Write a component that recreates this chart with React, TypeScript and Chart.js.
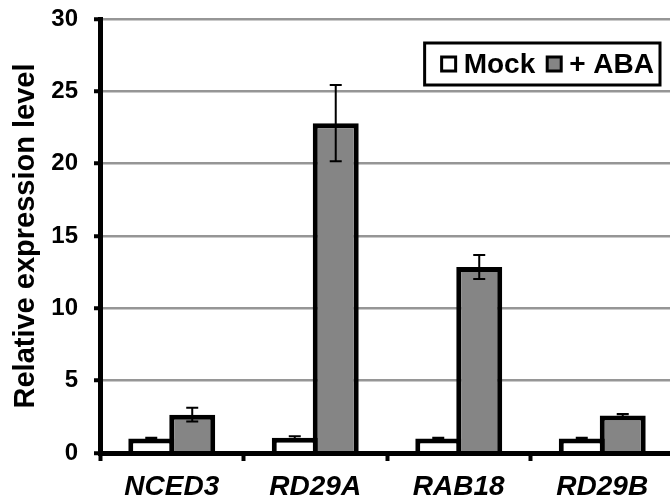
import { useEffect, useRef } from "react";
import { Chart, registerables } from "chart.js";

Chart.register(...registerables);

const categories = ["NCED3", "RD29A", "RAB18", "RD29B"];
const seriesLabels = ["Mock", "+ ABA"];
const mockValues = [1.0, 1.05, 1.0, 1.0];
const mockErrors = [0.05, 0.1, 0.05, 0.05];
const abaValues = [2.65, 22.8, 12.85, 2.6];
const abaErrors = [0.48, 2.63, 0.83, 0.1];
const yTickValues = [0, 5, 10, 15, 20, 25, 30];

const FONT = "'Liberation Sans', Arial, Helvetica, sans-serif";

const errorBarPlugin = {
  id: "errorBars",
  afterDatasetsDraw(chart: any) {
    const ctx = chart.ctx;
    const yScale = chart.scales.y;
    chart.data.datasets.forEach((ds: any, di: number) => {
      const meta = chart.getDatasetMeta(di);
      meta.data.forEach((bar: any, i: number) => {
        const v = ds.data[i];
        const e = ds.errors[i];
        const x = bar.x;
        const yTop = yScale.getPixelForValue(v + e);
        const yBot = yScale.getPixelForValue(v - e);
        ctx.save();
        ctx.strokeStyle = "#000";
        ctx.lineWidth = 2;
        ctx.beginPath();
        ctx.moveTo(x, yTop);
        ctx.lineTo(x, yBot);
        ctx.moveTo(x - 6, yTop);
        ctx.lineTo(x + 6, yTop);
        ctx.moveTo(x - 6, yBot);
        ctx.lineTo(x + 6, yBot);
        ctx.stroke();
        ctx.restore();
      });
    });
  },
};

const insideLegendPlugin = {
  id: "insideLegend",
  afterDraw(chart: any) {
    const { ctx, chartArea } = chart;
    ctx.save();
    ctx.font = `bold 28px ${FONT}`;
    const items = chart.data.datasets.map((ds: any) => ({
      label: ds.label,
      fill: ds.backgroundColor,
    }));
    const sq = 14;
    const gap = 8;
    const itemGap = 12;
    const padL = 17;
    const padR = 6;
    const h = 42;
    let w = padL + padR;
    items.forEach((it: any, i: number) => {
      w += sq + gap + ctx.measureText(it.label).width + (i < items.length - 1 ? itemGap : 0);
    });
    const right = chartArea.right - 14;
    const left = right - w;
    const top = chartArea.top + 24;
    ctx.fillStyle = "#fff";
    ctx.fillRect(left, top, w, h);
    ctx.lineWidth = 3;
    ctx.strokeStyle = "#000";
    ctx.strokeRect(left, top, w, h);
    let x = left + padL;
    const cy = top + h / 2;
    items.forEach((it: any) => {
      ctx.fillStyle = it.fill;
      ctx.fillRect(x, cy - sq / 2, sq, sq);
      ctx.lineWidth = 3;
      ctx.strokeStyle = "#000";
      ctx.strokeRect(x, cy - sq / 2, sq, sq);
      x += sq + gap;
      ctx.fillStyle = "#000";
      ctx.textBaseline = "middle";
      ctx.textAlign = "left";
      ctx.fillText(it.label, x, cy + 1);
      x += ctx.measureText(it.label).width + itemGap;
    });
    ctx.restore();
  },
};

export default function App() {
  const ref = useRef<HTMLCanvasElement | null>(null);

  useEffect(() => {
    if (!ref.current) return;
    const chart = new Chart(ref.current, {
      type: "bar",
      data: {
        labels: categories,
        datasets: [
          {
            label: seriesLabels[0],
            data: mockValues,
            errors: mockErrors,
            backgroundColor: "#ffffff",
            borderColor: "#000000",
            borderWidth: 5,
            categoryPercentage: 0.571,
            barPercentage: 1.122,
          } as any,
          {
            label: seriesLabels[1],
            data: abaValues,
            errors: abaErrors,
            backgroundColor: "#858585",
            borderColor: "#000000",
            borderWidth: 5,
            categoryPercentage: 0.571,
            barPercentage: 1.122,
          } as any,
        ],
      },
      options: {
        responsive: false,
        animation: false,
        layout: { padding: { left: 0, right: 2, top: 19, bottom: 0 } },
        plugins: {
          legend: { display: false },
          tooltip: { enabled: false },
        },
        scales: {
          x: {
            afterFit: (s: any) => {
              s.height = 48;
              s.paddingLeft = 0;
              s.paddingRight = 0;
            },
            grid: {
              display: true,
              drawOnChartArea: false,
              drawTicks: true,
              tickLength: 8,
              tickColor: "#000",
              tickWidth: 4,
              offset: true,
            },
            border: { display: true, color: "#000", width: 5, z: 1 },
            ticks: {
              color: "#000",
              padding: 9,
              font: { family: FONT, size: 28, weight: "bold", style: "italic" },
            },
          },
          y: {
            min: 0,
            max: 30,
            afterFit: (s: any) => {
              s.width = 100;
              s.paddingTop = 0;
              s.paddingBottom = 0;
            },
            afterBuildTicks: (s: any) => {
              s.ticks = yTickValues.map((v) => ({ value: v }));
            },
            grid: {
              color: "#969696",
              lineWidth: 2.5,
              drawTicks: true,
              tickLength: 6,
              tickColor: "#000",
              tickWidth: 4,
            },
            border: { display: true, color: "#000", width: 5, z: 1 },
            ticks: {
              color: "#000",
              padding: 16,
              font: { family: FONT, size: 24, weight: "bold" },
            },
            title: {
              display: true,
              text: "Relative expression level",
              color: "#000",
              padding: { top: 9, bottom: 0 },
              font: { family: FONT, size: 29, weight: "bold" },
            },
          },
        },
      } as any,
      plugins: [errorBarPlugin, insideLegendPlugin],
    });
    return () => chart.destroy();
  }, []);

  return (
    <div
      style={{
        position: "fixed",
        left: 0,
        top: 0,
        width: 670,
        height: 501,
        overflow: "hidden",
        background: "#fff",
      }}
    >
      <canvas ref={ref} width={676} height={501} style={{ display: "block" }} />
    </div>
  );
}
